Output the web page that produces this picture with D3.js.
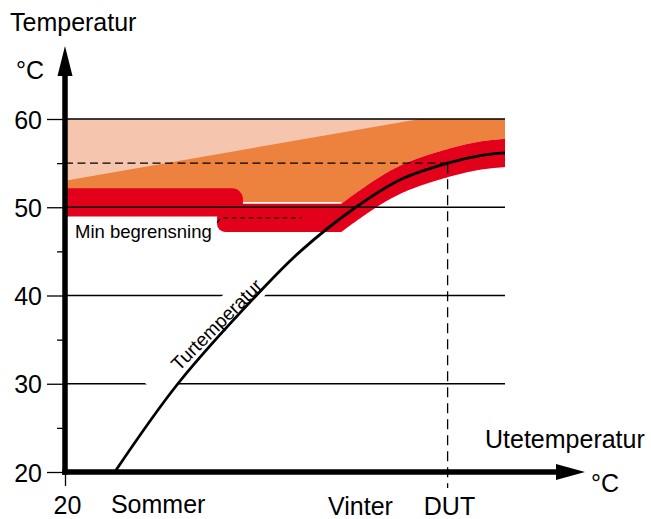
<!DOCTYPE html>
<html>
<head>
<meta charset="utf-8">
<script src="https://cdn.jsdelivr.net/npm/d3@7"></script>
<style>
	body { margin: 0; background: #fff; }
	svg text { font-family: "Liberation Sans", Arial, Helvetica, sans-serif; fill: #000; }
</style>
</head>
<body>
<svg id="chart"></svg>
<script>
// values (outdoor temp -> flow temp)
var outdoor = [14.8, 8.2, 0, -4.6, -10.4, -15, -20, -23.4, -26];
var flow = [20, 30, 40, 45, 50, 53.1, 55, 55.85, 56.15];
var yTicks = [20, 30, 40, 50, 60];
var yMinorTicks = [25, 35, 45, 55];
var gridValues = [30, 40, 50, 60];
var xTicks = [20];
var xDomain = [20, -26];
var yDomain = [20, 60];
var minLimit = 48.8;        // min begrensning
var minStart = 4.1;
var minDashEnd = -4.7;
var summerLevel = 50.55;
var summerEnd = 1.4;
var bandHalf = 1.6;
var dut = -20;
var dutFlow = 55;
var pinkOutdoor = [20, -17.1];
var pinkFlow = [53, 60];
var seasonNames = ["Sommer", "Vinter", "DUT"];
var seasonAt = [15.2, -7.5, -20.2];

var width = 651, height = 519;
var pink = "#f6c5ae", orange = "#ec823d", red = "#e2001a";

var x = d3.scaleLinear().domain(xDomain).range([65, 505]);
var y = d3.scaleLinear().domain(yDomain).range([472, 119]);

var svg = d3.select("#chart").attr("width", width).attr("height", height);

svg.append("defs").append("clipPath").attr("id", "plot")
	.append("rect")
	.attr("x", x(xDomain[0])).attr("y", 0)
	.attr("width", x(xDomain[1]) - x(xDomain[0])).attr("height", height);

// curve, sampled so the bands can follow it
var curvePts = outdoor.map(function(d, i) { return [x(d), y(flow[i])]; });
var lineGen = d3.line().curve(d3.curveCatmullRom.alpha(0.5));
var probe = svg.append("path").attr("d", lineGen(curvePts)).attr("fill", "none");
var pnode = probe.node(), len = pnode.getTotalLength();
var samples = [];
for (var l = 0; l <= len; l += 0.5) {
	var p = pnode.getPointAtLength(l);
	samples.push([p.x, p.y]);
}
probe.remove();
samples.sort(function(a, b) { return a[0] - b[0]; });
var bis = d3.bisector(function(d) { return d[0]; }).left;

function flowAt(px) {
	if (px <= samples[0][0]) return yDomain[0];
	var i = bis(samples, px);
	if (i >= samples.length) i = samples.length - 1;
	var a = samples[Math.max(0, i - 1)], b = samples[i];
	var t = b[0] === a[0] ? 0 : (px - a[0]) / (b[0] - a[0]);
	return y.invert(a[1] + t * (b[1] - a[1]));
}

var rows = d3.range(x(xDomain[0]), x(xDomain[1]) + 0.5, 1).map(function(px) {
	var c = flowAt(px);
	return { px: px, curve: c, f: Math.max(c, minLimit) };
});

var plot = svg.append("g").attr("clip-path", "url(#plot)");

// orange field
plot.append("path")
	.datum(rows)
	.attr("fill", orange)
	.attr("d", d3.area()
		.x(function(d) { return d.px; })
		.y0(function(d) { return y(d.f + bandHalf + (d.curve < minLimit ? 0.2 : 0)); })
		.y1(y(60)));

// light wedge
plot.append("path")
	.datum(pinkOutdoor.map(function(d, i) { return [d, pinkFlow[i]]; }))
	.attr("fill", pink)
	.attr("d", d3.area()
		.x(function(d) { return x(d[0]); })
		.y0(function(d) { return y(d[1]); })
		.y1(y(60)));

// summer band
plot.append("rect")
	.attr("x", x(xDomain[0]) - 14)
	.attr("y", y(summerLevel + bandHalf))
	.attr("width", x(summerEnd) - x(xDomain[0]) + 14)
	.attr("height", y(summerLevel - bandHalf) - y(summerLevel + bandHalf))
	.attr("rx", 11)
	.attr("fill", red);

// limited curve band
plot.append("rect")
	.attr("x", x(minStart))
	.attr("y", y(minLimit + bandHalf))
	.attr("width", 24)
	.attr("height", y(minLimit - bandHalf) - y(minLimit + bandHalf))
	.attr("rx", 8)
	.attr("fill", red);

plot.append("path")
	.datum(rows.filter(function(d) { return d.px >= x(minStart) + 8; }))
	.attr("fill", red)
	.attr("d", d3.area()
		.x(function(d) { return d.px; })
		.y0(function(d) { return y(d.f - bandHalf); })
		.y1(function(d) { return y(d.f + bandHalf); }));

// grid lines
svg.append("g").selectAll("line")
	.data(gridValues)
	.enter().append("line")
	.attr("x1", x(xDomain[0])).attr("x2", x(xDomain[1]))
	.attr("y1", function(d) { return y(d); }).attr("y2", function(d) { return y(d); })
	.attr("stroke", "#000")
	.attr("stroke-width", 1.3);

// dashed design lines
svg.append("line")
	.attr("x1", x(xDomain[0])).attr("x2", x(dut))
	.attr("y1", y(dutFlow)).attr("y2", y(dutFlow))
	.attr("stroke", "#000").attr("stroke-width", 1.3)
	.attr("stroke-dasharray", "8,4.5");

svg.append("line")
	.attr("x1", x(dut)).attr("x2", x(dut))
	.attr("y1", y(dutFlow)).attr("y2", y(yDomain[0]) + 16)
	.attr("stroke", "#000").attr("stroke-width", 1.3)
	.attr("stroke-dasharray", "10,6");

svg.append("path")
	.datum([[minStart, minLimit - 0.55], [minStart - 0.4, minLimit], [minDashEnd, minLimit]])
	.attr("fill", "none")
	.attr("stroke", "#000").attr("stroke-width", 1.3)
	.attr("stroke-dasharray", "4.5,4")
	.attr("d", d3.line().x(function(d) { return x(d[0]); }).y(function(d) { return y(d[1]); }));

svg.append("text")
	.attr("x", 75).attr("y", 238)
	.style("font-size", "18.5px")
	.text("Min begrensning");

// label backing, then curve, then label
var labX = x(8.3) + 2, labY = y(31.6) + 2;
svg.append("rect")
	.attr("transform", "translate(" + labX + "," + labY + ") rotate(-45)")
	.attr("x", -32).attr("y", -23)
	.attr("width", 154).attr("height", 30)
	.attr("fill", "#fff");

svg.append("path")
	.attr("d", lineGen(curvePts))
	.attr("fill", "none")
	.attr("stroke", "#000")
	.attr("stroke-width", 2.8);

svg.append("text")
	.attr("transform", "translate(" + labX + "," + labY + ") rotate(-45)")
	.style("font-size", "19px")
	.text("Turtemperatur");

// axes
var yAxis = svg.append("g")
	.attr("transform", "translate(" + x(xDomain[0]) + ",0)")
	.call(d3.axisLeft(y).tickValues(yTicks).tickSize(18).tickPadding(5).tickFormat(d3.format("d")));
yAxis.select(".domain").remove();
yAxis.selectAll("line").attr("stroke-width", 1.3);
yAxis.selectAll("text").attr("dy", "0.36em").style("font-size", "25px")
	.attr("font-family", null);

var yMinor = svg.append("g")
	.attr("transform", "translate(" + x(xDomain[0]) + ",0)")
	.call(d3.axisLeft(y).tickValues(yMinorTicks).tickSize(8).tickFormat(""));
yMinor.select(".domain").remove();
yMinor.selectAll("line").attr("stroke-width", 1.3);

var xAxis = svg.append("g")
	.attr("transform", "translate(0," + y(yDomain[0]) + ")")
	.call(d3.axisBottom(x).tickValues(xTicks).tickSize(14).tickPadding(10).tickFormat(d3.format("d")));
xAxis.select(".domain").remove();
xAxis.selectAll("line").attr("stroke-width", 1.3);
xAxis.selectAll("text").attr("dx", 2).style("font-size", "25px").attr("font-family", null);

var ax0 = x(xDomain[0]), ay0 = y(yDomain[0]);
svg.append("line")
	.attr("x1", ax0).attr("x2", ax0)
	.attr("y1", ay0 + 2.7).attr("y2", 76)
	.attr("stroke", "#000").attr("stroke-width", 5.5);
svg.append("path")
	.attr("d", "M" + ax0 + ",46L" + (ax0 + 7.5) + ",76L" + (ax0 - 7.5) + ",76Z")
	.attr("fill", "#000");

svg.append("line")
	.attr("x1", ax0 - 2.7).attr("x2", 557)
	.attr("y1", ay0).attr("y2", ay0)
	.attr("stroke", "#000").attr("stroke-width", 5.5);
svg.append("path")
	.attr("d", "M585," + ay0 + "L556," + (ay0 - 8) + "L556," + (ay0 + 8) + "Z")
	.attr("fill", "#000");

// titles
var big = "25px";
svg.append("text").attr("x", 10).attr("y", 31).style("font-size", big).text("Temperatur");
svg.append("text").attr("x", 16).attr("y", 79).style("font-size", big).text("°C");
svg.append("text").attr("x", 485).attr("y", 448).style("font-size", big).text("Utetemperatur");
svg.append("text").attr("x", 591).attr("y", 492).style("font-size", big).text("°C");

svg.append("g").selectAll("text")
	.data(seasonNames)
	.enter().append("text")
	.attr("x", function(d, i) { return x(seasonAt[i]); })
	.attr("y", function(d, i) { return i == 0 ? 513 : 515; })
	.attr("text-anchor", function(d, i) { return i == 2 ? "middle" : "start"; })
	.style("font-size", big)
	.text(function(d) { return d; });
</script>
</body>
</html>
